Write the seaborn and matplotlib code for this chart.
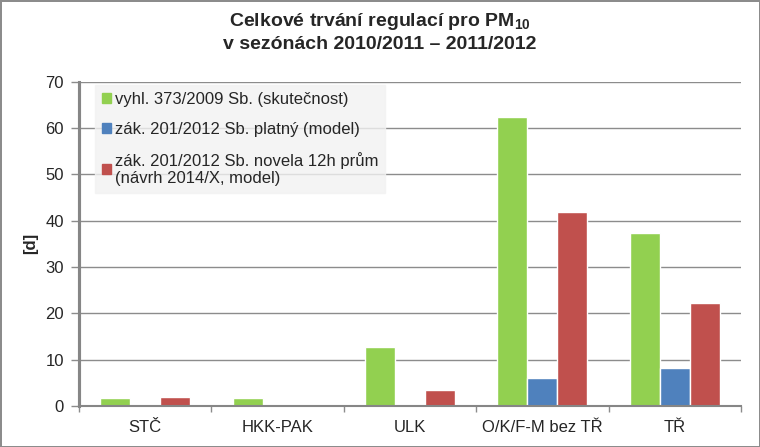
import numpy as np
import pandas as pd
import matplotlib
matplotlib.use("Agg")
import matplotlib.pyplot as plt
import seaborn as sns

# data
regions = ["STČ", "HKK-PAK", "ULK", "O/K/F-M bez TŘ", "TŘ"]
series_names = [
    "vyhl. 373/2009 Sb. (skutečnost)",
    "zák. 201/2012 Sb. platný (model)",
    "zák. 201/2012 Sb. novela 12h prům\n(návrh 2014/X, model)",
]
actual = [1.8, 1.6, 12.7, 62.5, 37.3]
model_valid = [0.0, 0.0, 0.0, 6.0, 8.2]
model_new = [1.9, 0.0, 3.4, 41.8, 22.2]
colors = ["#92D050", "#4F81BD", "#C0504D"]
yticks = [0, 10, 20, 30, 40, 50, 60, 70]

rows = []
for name, vals in zip(series_names, [actual, model_valid, model_new]):
    for r, v in zip(regions, vals):
        rows.append({"region": r, "series": name, "days": v})
df = pd.DataFrame(rows)

sns.set_style("white")
plt.rcParams["font.family"] = ["Liberation Sans", "DejaVu Sans"]
plt.rcParams["mathtext.fontset"] = "custom"
plt.rcParams["mathtext.rm"] = "Liberation Sans:bold"
plt.rcParams["mathtext.it"] = "Liberation Sans:bold"

fig = plt.figure(figsize=(7.6, 4.47), dpi=100)
fig.patch.set_edgecolor("#8C8C8C")
fig.patch.set_linewidth(2)
ax = fig.add_axes([0.104, 0.092, 0.871, 0.725])

sns.barplot(data=df, x="region", y="days", hue="series", palette=colors,
            width=0.68, saturation=1, ax=ax, zorder=3)
ax.legend_.remove()

ax.set_ylim(0, 70)
ax.set_xlim(-0.5, 4.5)
ax.set_yticks(yticks)
ax.yaxis.grid(True, color="#8C8C8C", linewidth=1, zorder=0)
ax.set_axisbelow(True)
for s in ["top", "right"]:
    ax.spines[s].set_visible(False)
for s in ["left", "bottom"]:
    ax.spines[s].set_visible(True)
    ax.spines[s].set_color("#868686")
    ax.spines[s].set_zorder(5)
ax.spines["left"].set_linewidth(2.2)
ax.spines["bottom"].set_linewidth(1.5)
# make sure the value axis line is drawn
ax.axvline(-0.5, color="#868686", linewidth=2.2, zorder=6, clip_on=False)

ax.set_xticks(np.arange(-0.5, 5, 1), minor=True)
ax.tick_params(axis="x", which="major", length=0, labelsize=12, pad=10)
ax.tick_params(axis="x", which="minor", length=4, width=1, color="#8C8C8C",
               direction="out", bottom=True)
ax.tick_params(axis="y", length=6, width=1, color="#8C8C8C", labelsize=12,
               left=True, pad=5)
ax.set_xlabel("")
ax.set_ylabel("[d]", fontsize=12, fontweight="bold", labelpad=5)

fig.suptitle("Celkové trvání regulací pro PM$_{10}$\nv sezónách 2010/2011 – 2011/2012",
             fontsize=14, fontweight="bold", y=0.975, linespacing=1.3)

handles = [plt.Rectangle((0, 0), 1, 1, color=c) for c in colors]
leg = fig.legend(handles, series_names, loc="upper left",
                 bbox_to_anchor=(0.125, 0.81), frameon=True, fontsize=12,
                 handlelength=0.55, handleheight=0.55, handletextpad=0.25,
                 labelspacing=0.9, borderpad=0.4, borderaxespad=0)
leg.get_frame().set_facecolor("#F2F2F2")
leg.get_frame().set_edgecolor("#F2F2F2")
leg.get_frame().set_boxstyle("square", pad=0)
leg.set_zorder(10)

fig.savefig("out.png", dpi=100)
